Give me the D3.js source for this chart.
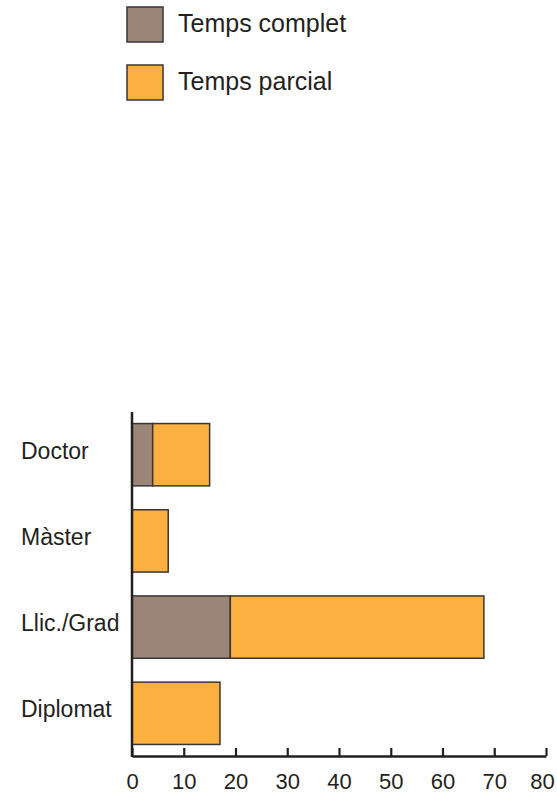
<!DOCTYPE html>
<meta charset="utf-8">
<script src="https://d3js.org/d3.v7.min.js"></script>
<style>
body { margin: 0; background: #fff; }
text { font-family: "Liberation Sans", Arial, sans-serif; fill: #231f20; }
</style>
<div id="chart"></div>
<script>

// data
var categories = ["Doctor", "Màster", "Llic./Grad", "Diplomat"];
var completValues = [4, 0, 19, 0];
var parcialValues = [11, 7, 49, 17];
var seriesNames = ["Temps complet", "Temps parcial"];
var seriesColors = ["#9b8577", "#fbb040"];
var xTicks = [0, 10, 20, 30, 40, 50, 60, 70, 80];

var width = 557, height = 798;

var svg = d3.select("#chart")
  .append("svg")
    .attr("width", width)
    .attr("height", height);

var x = d3.scaleLinear()
  .domain([0, 80])
  .range([132, 546]);

var y = d3.scaleBand()
  .domain(categories)
  .range([412, 756])
  .paddingInner(0.277)
  .paddingOuter(0.134);

// stack the two series
var rows = categories.map(function(c, i) {
  return { cat: c, complet: completValues[i], parcial: parcialValues[i] };
});
var stack = d3.stack().keys(["complet", "parcial"]);
var layers = stack(rows);

svg.append("g")
  .selectAll("g")
  .data(layers)
  .enter()
  .append("g")
    .attr("fill", function(d, i) { return seriesColors[i]; })
  .selectAll("rect")
  .data(function(d) { return d.filter(function(v) { return v[1] - v[0] > 0; }); })
  .enter()
  .append("rect")
    .attr("x", function(d) { return x(d[0]); })
    .attr("y", function(d) { return y(d.data.cat); })
    .attr("width", function(d) { return x(d[1]) - x(d[0]); })
    .attr("height", y.bandwidth())
    .attr("stroke", "#3a3536")
    .attr("stroke-width", 1.5);

// x axis, ticks pointing up into the plot
var xAxis = svg.append("g")
  .attr("transform", "translate(0," + 756 + ")")
  .call(d3.axisBottom(x).tickValues(xTicks).tickSizeInner(-8).tickSizeOuter(0));
xAxis.select(".domain").attr("stroke", "#231f20").attr("stroke-width", 2.5);
xAxis.selectAll(".tick line").attr("stroke", "#231f20").attr("stroke-width", 2.2);
xAxis.selectAll(".tick text")
  .attr("y", 33)
  .attr("dy", 0)
  .attr("dx", function(d) { return d === 80 ? -4 : 0; })
  .style("font-size", "22px")
  .style("font-family", "'Liberation Sans', Arial, sans-serif")
  .attr("fill", "#231f20");

// y axis line
svg.append("line")
  .attr("x1", x(0)).attr("x2", x(0))
  .attr("y1", 412).attr("y2", 757)
  .attr("stroke", "#231f20")
  .attr("stroke-width", 2.5);

// category labels, left aligned
svg.append("g")
  .selectAll("text")
  .data(categories)
  .enter()
  .append("text")
    .attr("x", 21)
    .attr("y", function(d) { return y(d) + y.bandwidth() / 2 + 4; })
    .style("font-size", "23px")
    .text(function(d) { return d; });

// legend
var legend = svg.append("g")
  .selectAll("g")
  .data(seriesNames)
  .enter()
  .append("g")
    .attr("transform", function(d, i) { return "translate(127," + (7 + i * 58) + ")"; });

legend.append("rect")
  .attr("width", 36)
  .attr("height", 35)
  .attr("fill", function(d, i) { return seriesColors[i]; })
  .attr("stroke", "#3a3536")
  .attr("stroke-width", 1.5);

legend.append("text")
  .attr("x", 51)
  .attr("y", 25)
  .style("font-size", "25px")
  .text(function(d) { return d; });

</script>
